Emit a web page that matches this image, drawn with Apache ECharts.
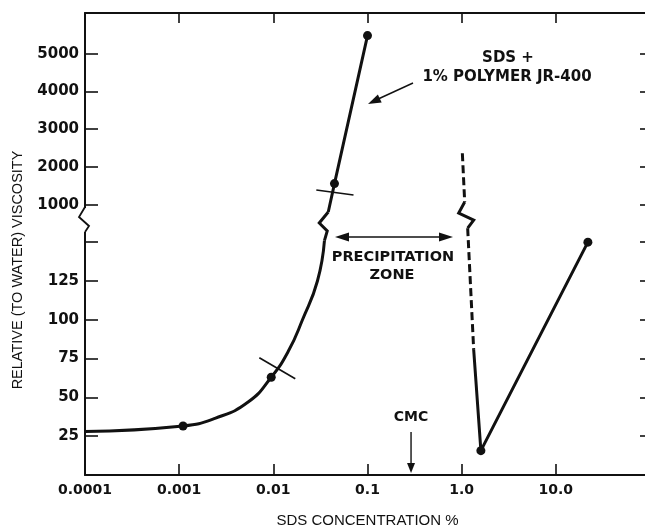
<!DOCTYPE html>
<html><head><meta charset="utf-8">
<script src="https://cdn.jsdelivr.net/npm/echarts@6/dist/echarts.min.js"></script>
<style>html,body{margin:0;padding:0;background:#fff}#c{width:645px;height:529px}</style>
</head><body><div id="c"></div>
<script>
// ---------- data ----------
const xTickText = {'-4':'0.0001','-3':'0.001','-2':'0.01','-1':'0.1','0':'1.0','1':'10.0','2':''};
const upperTicks = [1000, 2000, 3000, 4000, 5000];
const lowerTicks = [25, 50, 75, 100, 125, 150];
const lowerLabels = [25, 50, 75, 100, 125];

// smooth curve below the break
const curveX = [0.0001, 0.0011, 0.0024, 0.0054, 0.0095, 0.0145, 0.0204, 0.0294, 0.0349];
const curveY = [28, 31.6, 36.5, 47, 63, 80, 100, 125, 151];
const curveDot = [0, 1, 0, 0, 1, 0, 0, 0, 0];
// curve above the break
const upperX = [0.0383, 0.0446, 0.1];
const upperY = [807, 1560, 5480];
const upperDot = [0, 1, 1];
// dashed line (upper part / lower part)
const dashUpX = [1.017, 1.077];
const dashUpY = [2362, 1071];
const dashLoX = [1.158, 1.342];
const dashLoY = [159, 80.6];
// solid right branch
const rightX = [1.342, 1.60, 21.9];
const rightY = [80.6, 15.7, 150];
const rightDot = [0, 1, 1];
// short crossing marks
const cross1X = [0.0071, 0.0171];
const cross1Y = [75.5, 62];
const cross2X = [0.0286, 0.0710];
const cross2Y = [1389, 1257];
const cmcValue = 0.29;

const INK = '#111';
const pts = (xs, ys, dots) => xs.map((x, i) => ({
  value: [x, ys[i]],
  symbol: dots && dots[i] ? 'circle' : 'none'
}));

const chart = echarts.init(document.getElementById('c'), null, {renderer: 'canvas'});
const tickFont = {fontFamily: 'DejaVu Sans', fontWeight: 'bold', fontSize: 14, color: INK};

const yCommon = (gi, min, max, pos, ticks, labels, tlen) => ({
  type: 'value', gridIndex: gi, min: min, max: max, position: pos,
  axisLine: {show: true, onZero: false, lineStyle: {color: INK, width: 2}},
  axisTick: {show: true, inside: true, length: tlen, customValues: ticks, lineStyle: {color: INK, width: 1.6}},
  axisLabel: labels ? Object.assign({show: true, margin: 6, customValues: labels,
    formatter: v => String(Math.round(v))}, tickFont, {fontSize: 15}) : {show: false},
  splitLine: {show: false}
});

chart.setOption({
  animation: false,
  backgroundColor: '#fff',
  grid: [
    {left: 85, top: 13, width: 565, height: 209, outerBoundsMode: 'none'},
    {left: 85, top: 222, width: 565, height: 253, outerBoundsMode: 'none'}
  ],
  xAxis: [
    {type: 'log', logBase: 10, gridIndex: 0, min: 0.0001, max: 100, position: 'top',
     axisLine: {show: true, onZero: false, lineStyle: {color: INK, width: 2}},
     axisTick: {show: true, inside: true, length: 10, lineStyle: {color: INK, width: 1.6}},
     axisLabel: {show: false}, splitLine: {show: false}, minorTick: {show: false}},
    {type: 'log', logBase: 10, gridIndex: 1, min: 0.0001, max: 100, position: 'bottom',
     axisLine: {show: true, onZero: false, lineStyle: {color: INK, width: 2}},
     axisTick: {show: true, inside: true, length: 11, lineStyle: {color: INK, width: 1.6}},
     axisLabel: Object.assign({show: true, margin: 8,
       formatter: v => xTickText[String(Math.round(Math.log10(v)))] || ''}, tickFont),
     splitLine: {show: false}, minorTick: {show: false},
     name: 'SDS CONCENTRATION %', nameLocation: 'middle', nameGap: 38,
     nameTextStyle: {fontFamily: 'Liberation Sans', fontSize: 15, color: INK}}
  ],
  yAxis: [
    yCommon(0, 542, 6078, 'left', upperTicks, upperTicks, 13),
    yCommon(0, 542, 6078, 'right', upperTicks, null, 10),
    yCommon(1, 0, 163, 'left', lowerTicks, lowerLabels, 13),
    yCommon(1, 0, 163, 'right', lowerTicks, null, 10)
  ],
  series: [
    {type: 'line', xAxisIndex: 1, yAxisIndex: 2, data: pts(curveX, curveY, curveDot),
     smooth: 0.5, symbolSize: 9, lineStyle: {color: INK, width: 3},
     itemStyle: {color: INK}, z: 5},
    {type: 'line', xAxisIndex: 0, yAxisIndex: 0, data: pts(upperX, upperY, upperDot),
     symbolSize: 9, lineStyle: {color: INK, width: 3}, itemStyle: {color: INK}, z: 5},
    {type: 'line', xAxisIndex: 0, yAxisIndex: 0, data: pts(dashUpX, dashUpY),
     lineStyle: {color: INK, width: 3, type: [8, 4]}, z: 5},
    {type: 'line', xAxisIndex: 1, yAxisIndex: 2, data: pts(dashLoX, dashLoY),
     lineStyle: {color: INK, width: 3, type: [8, 4]}, z: 5},
    {type: 'line', xAxisIndex: 1, yAxisIndex: 2, data: pts(rightX, rightY, rightDot),
     symbolSize: 9, lineStyle: {color: INK, width: 3}, itemStyle: {color: INK}, z: 5},
    {type: 'line', xAxisIndex: 1, yAxisIndex: 2, data: pts(cross1X, cross1Y),
     lineStyle: {color: INK, width: 1.6}, z: 4},
    {type: 'line', xAxisIndex: 0, yAxisIndex: 0, data: pts(cross2X, cross2Y),
     lineStyle: {color: INK, width: 1.6}, z: 4}
  ]
});

// ---------- decorations (breaks, annotations) ----------
const lo = (x, y) => chart.convertToPixel({xAxisIndex: 1, yAxisIndex: 2}, [x, y]);
const up = (x, y) => chart.convertToPixel({xAxisIndex: 0, yAxisIndex: 0}, [x, y]);
const breakPt = lo(0.0001, 163);
const axX = breakPt[0], bY = breakPt[1];
const P1 = up(upperX[0], upperY[0]);
const P2 = lo(curveX[curveX.length - 1], curveY[curveY.length - 1]);
const U = up(dashUpX[dashUpX.length - 1], dashUpY[dashUpY.length - 1]);
const L = lo(dashLoX[0], dashLoY[0]);
const cmcX = lo(cmcValue, 0)[0];
const baseY = lo(cmcValue, 0)[1];

function head(tip, from, len, hw) {
  const dx = tip[0] - from[0], dy = tip[1] - from[1];
  const d = Math.hypot(dx, dy), ux = dx / d, uy = dy / d;
  const bx = tip[0] - ux * len, by = tip[1] - uy * len;
  return {type: 'polygon', z: 20, shape: {points: [tip, [bx - uy * hw, by + ux * hw], [bx + uy * hw, by - ux * hw]]},
          style: {fill: INK}};
}
const line = (pts, w) => ({type: 'polyline', z: 20, shape: {points: pts}, style: {stroke: INK, lineWidth: w, fill: null}});
const txt = (s, x, y, font, rot) => ({type: 'text', z: 20, x: x, y: y, rotation: rot || 0,
  style: {text: s, font: font, fill: INK, align: 'center', verticalAlign: 'middle', textAlign: 'center', textVerticalAlign: 'middle'}});

const bold = 'bold 15px "DejaVu Sans"';
const arrowFrom = [413, 83], arrowTip = [368, 104];
const zoneL = [335, 237], zoneR = [453, 237];

chart.setOption({
  graphic: [
    // left axis break
    {type: 'rect', z: 19, shape: {x: axX - 9, y: bY - 14, width: 16, height: 24}, style: {fill: '#fff'}},
    line([[axX, bY - 15], [axX - 6, bY - 5], [axX + 4, bY + 4], [axX, bY + 10]], 1.8),
    // curve break
    line([P1, [P1[0] - 9, P1[1] + 11], [P1[0] - 1, P1[1] + 19], P2], 3),
    // dashed line break
    line([U, [U[0] - 6, U[1] + 11], [U[0] + 9, U[1] + 18], L], 3),
    // labels
    txt('SDS +', 508, 58, bold),
    txt('1% POLYMER JR-400', 507, 77, bold),
    line([arrowFrom, [arrowTip[0] + 8, arrowTip[1] - 4]], 1.4),
    head(arrowTip, arrowFrom, 13, 4.5),
    txt('PRECIPITATION', 393, 257, 'bold 14.5px "DejaVu Sans"'),
    txt('ZONE', 392, 275, 'bold 14.5px "DejaVu Sans"'),
    line([[zoneL[0] + 10, zoneL[1]], [zoneR[0] - 10, zoneR[1]]], 1.4),
    head(zoneL, zoneR, 14, 4.5),
    head(zoneR, zoneL, 14, 4.5),
    txt('CMC', cmcX, 417, 'bold 14px "DejaVu Sans"'),
    line([[cmcX, 432], [cmcX, baseY - 10]], 1.4),
    head([cmcX, baseY - 2], [cmcX, 432], 10, 4),
    // y title
    txt('RELATIVE (TO WATER) VISCOSITY', 18, 270, '14.5px "Liberation Sans"', Math.PI / 2)
  ]
});
</script></body></html>
